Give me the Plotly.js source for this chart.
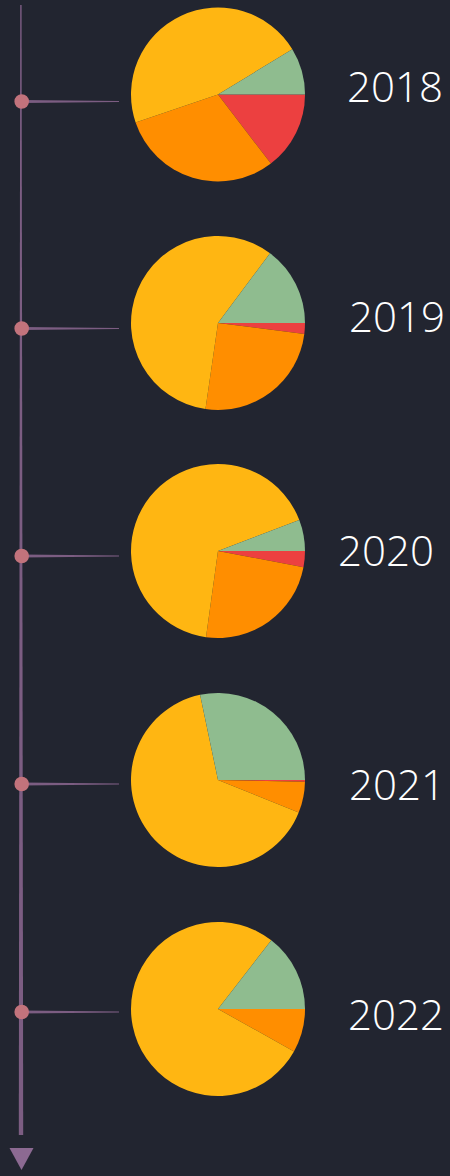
<!DOCTYPE html>
<html>
<head>
<meta charset="utf-8">
<script src="https://cdn.plot.ly/plotly-3.0.1.min.js"></script>
<style>
  html, body { margin: 0; padding: 0; background: #222530; }
  #chart { width: 450px; height: 1176px; }
</style>
</head>
<body>
<div id="chart"></div>
<script>
// ---- data ----
const years = ['2018', '2019', '2020', '2021', '2022'];
const categories = ['Red', 'Orange', 'Yellow', 'Green'];
const redValues    = [14.6,  2.0,  3.0,  0.3,  0.0];
const orangeValues = [30.2, 25.3, 24.2,  5.8,  8.1];
const yellowValues = [46.5, 57.9, 67.0, 65.6, 77.4];
const greenValues  = [ 8.7, 14.8,  5.8, 28.3, 14.5];

// ---- styling / layout ----
const W = 450, H = 1176;
const sliceColors = ['#EC4040', '#FF8E00', '#FFB612', '#8FBC8F'];
const pieCentersY = [94.5, 323, 551, 780, 1009];
const dotY = [101.5, 328.5, 556, 784, 1012];
const labelPos = [[395, 85], [397, 315], [386, 549], [397, 783], [396, 1013]];
const pieCx = 218, pieR = 87;

const traces = years.map((yr, i) => {
  const cy = pieCentersY[i];
  return {
    type: 'pie',
    name: yr,
    labels: categories,
    values: [redValues[i], orangeValues[i], yellowValues[i], greenValues[i]],
    sort: false,
    direction: 'clockwise',
    rotation: 90,
    textinfo: 'none',
    hoverinfo: 'label+percent',
    showlegend: false,
    marker: { colors: sliceColors, line: { width: 0 } },
    domain: {
      x: [(pieCx - pieR) / W, (pieCx + pieR) / W],
      y: [1 - (cy + pieR) / H, 1 - (cy - pieR) / H]
    }
  };
});

const lineColor = '#7C5D82';
const shapes = [];
// tapered vertical timeline
shapes.push({
  type: 'path', xref: 'x', yref: 'y',
  path: 'M 20.2,5 L 21.6,5 L 23.2,1135 L 18.8,1135 Z',
  fillcolor: lineColor, line: { width: 0 }, layer: 'below'
});
// arrow head
shapes.push({
  type: 'path', xref: 'x', yref: 'y',
  path: 'M 9.5,1148 L 33.5,1148 L 21.5,1170 Z',
  fillcolor: '#8C6A92', line: { width: 0 }
});
dotY.forEach(y => {
  shapes.push({
    type: 'path', xref: 'x', yref: 'y',
    path: `M 22,${y - 1.6} L 119,${y - 0.6} L 119,${y + 0.6} L 22,${y + 1.6} Z`,
    fillcolor: lineColor, line: { width: 0 }
  });
  shapes.push({
    type: 'circle', xref: 'x', yref: 'y',
    x0: 21.7 - 7.3, x1: 21.7 + 7.3, y0: y - 7.3, y1: y + 7.3,
    fillcolor: '#C2737C', line: { width: 0 }
  });
});

const annotations = years.map((yr, i) => ({
  xref: 'x', yref: 'y',
  x: labelPos[i][0], y: labelPos[i][1],
  text: yr, showarrow: false,
  xanchor: 'center', yanchor: 'middle',
  font: { family: 'Open Sans, DejaVu Sans, sans-serif', size: 42, weight: 300, color: '#FFFFFF' }
}));

const layout = {
  width: W, height: H,
  margin: { l: 0, r: 0, t: 0, b: 0, pad: 0 },
  paper_bgcolor: '#222530',
  plot_bgcolor: 'rgba(0,0,0,0)',
  xaxis: { range: [0, W], visible: false, fixedrange: true },
  yaxis: { range: [H, 0], visible: false, fixedrange: true },
  shapes: shapes,
  annotations: annotations,
  showlegend: false
};

Plotly.newPlot('chart', traces, layout, { displayModeBar: false, staticPlot: true });
</script>
</body>
</html>
